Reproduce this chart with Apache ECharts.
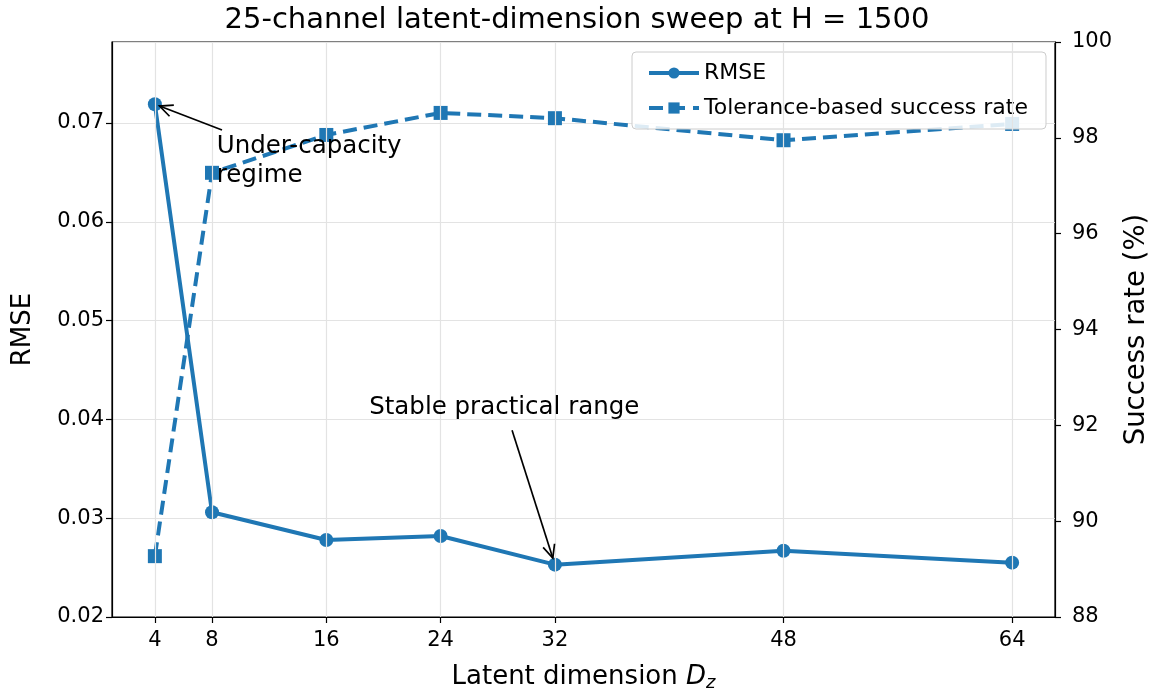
<!DOCTYPE html>
<html><head><meta charset="utf-8">
<script src="https://cdn.jsdelivr.net/npm/echarts@6/dist/echarts.min.js"></script>
<style>html,body{margin:0;padding:0;background:#fff}#c{width:1154px;height:692px}</style>
</head><body><div id="c"></div>
<script>
const dims = [4, 8, 16, 24, 32, 48, 64];
const rmse = [0.0719, 0.0306, 0.0278, 0.0282, 0.0253, 0.0267, 0.0255];
const successRate = [89.27, 97.27, 98.06, 98.52, 98.41, 97.95, 98.29];
const xTicks = [4, 8, 16, 24, 32, 48, 64];
const titleText = '25-channel latent-dimension sweep at H = 1500';
const annUnder = {text: 'Under-capacity\nregime', point: [4, 0.0719], textAt: [8.33, 0.06904], tail: [8.7, 0.0693]};
const annStable = {text: 'Stable practical range', point: [32, 0.0253], textAt: [19.0, 0.04262], tail: [29.0, 0.0389]};

const C = '#1f77b4';
const F = 'DejaVu Sans';
const chart = echarts.init(document.getElementById('c'), null, {renderer: 'canvas'});
const opt = {
  animation: false,
  backgroundColor: '#fff',
  title: {text: titleText, left: 'center', top: 1, textStyle: {fontFamily: F, fontSize: 29, fontWeight: 'normal', color: '#000'}},
  grid: {left: 112, right: 99, top: 42, bottom: 75, containLabel: false, outerBoundsMode: 'none', show: true, borderColor: '#000', borderWidth: 1.2, backgroundColor: 'transparent'},
  legend: {
    orient: 'vertical', left: 632, top: 52, itemWidth: 50, itemHeight: 14, itemGap: 13,
    padding: [10, 18, 10, 15], backgroundColor: 'rgba(255,255,255,0.85)', borderColor: '#ccc', borderWidth: 1, borderRadius: 4,
    textStyle: {fontFamily: F, fontSize: 22, color: '#000'},
    data: ['RMSE', 'Tolerance-based success rate']
  },
  xAxis: {
    type: 'value', min: 1, max: 67,
    name: '{a|Latent dimension }{i|D}{s|z}', nameLocation: 'middle', nameGap: 45,
    nameTextStyle: {rich: {
      a: {fontFamily: F, fontSize: 26, color: '#000'},
      i: {fontFamily: F, fontSize: 26, fontStyle: 'italic', color: '#000'},
      s: {fontFamily: F, fontSize: 18, fontStyle: 'italic', color: '#000', padding: [12, 0, 0, 0]}
    }},
    axisLine: {show: true, lineStyle: {color: '#000', width: 1.2}},
    axisTick: {show: true, length: 6, customValues: xTicks, lineStyle: {color: '#000', width: 1.2}},
    axisLabel: {customValues: xTicks, fontFamily: F, fontSize: 21, color: '#000', margin: 13},
    splitLine: {show: false}
  },
  yAxis: [{
    type: 'value', min: 0.02, max: 0.0782, interval: 0.01, position: 'left',
    name: 'RMSE', nameLocation: 'middle', nameGap: 76, nameRotate: 90,
    nameTextStyle: {fontFamily: F, fontSize: 26, color: '#000'},
    axisLine: {show: true, lineStyle: {color: '#000', width: 1.2}},
    axisTick: {show: true, length: 6, lineStyle: {color: '#000', width: 1.2}},
    axisLabel: {showMaxLabel: false, fontFamily: F, fontSize: 21, color: '#000', margin: 8, formatter: v => v.toFixed(2)},
    splitLine: {show: true, lineStyle: {color: '#e3e3e3', width: 1.2}}
  }, {
    type: 'value', min: 88, max: 100, interval: 2, position: 'right',
    name: 'Success rate (%)', nameLocation: 'middle', nameGap: 66, nameRotate: 90,
    nameTextStyle: {fontFamily: F, fontSize: 27.5, color: '#000'},
    axisLine: {show: true, lineStyle: {color: '#000', width: 1.2}},
    axisTick: {show: true, length: 6, lineStyle: {color: '#000', width: 1.2}},
    axisLabel: {fontFamily: F, fontSize: 21, color: '#000', margin: 17},
    splitLine: {show: false}
  }],
  series: [{
    name: 'grid-x', type: 'line', data: [], z: 0, silent: true,
    markLine: {silent: true, symbol: ['none', 'none'], label: {show: false},
      lineStyle: {color: '#e3e3e3', width: 1.2, type: 'solid'},
      data: xTicks.map(v => ({xAxis: v}))}
  }, {
    name: 'RMSE', type: 'line', yAxisIndex: 0, z: 3,
    data: dims.map((d, i) => [d, rmse[i]]),
    symbol: 'circle', symbolSize: 14,
    lineStyle: {color: C, width: 4}, itemStyle: {color: C}
  }, {
    name: 'Tolerance-based success rate', type: 'line', yAxisIndex: 1, z: 3,
    data: dims.map((d, i) => [d, successRate[i]]),
    symbol: 'rect', symbolSize: 14,
    lineStyle: {color: C, width: 4, type: [14, 7]}, itemStyle: {color: C}
  }]
};
opt.legend.data = [
  {name: 'RMSE', lineStyle: {width: 4}},
  {name: 'Tolerance-based success rate', lineStyle: {width: 4, type: [14, 8]}}
];
chart.setOption(opt);

function px(p) { return chart.convertToPixel({xAxisIndex: 0, yAxisIndex: 0}, p); }
function arrow(tail, head, shrink) {
  const t = px(tail), h0 = px(head);
  const dx = h0[0] - t[0], dy = h0[1] - t[1], L = Math.hypot(dx, dy);
  const ux = dx / L, uy = dy / L;
  const h = [h0[0] - ux * shrink, h0[1] - uy * shrink];
  const hl = 13, hw = 6;
  const b = [h[0] - ux * hl, h[1] - uy * hl];
  const w1 = [b[0] - uy * hw, b[1] + ux * hw], w2 = [b[0] + uy * hw, b[1] - ux * hw];
  return [
    {type: 'line', shape: {x1: t[0], y1: t[1], x2: h[0], y2: h[1]}, style: {stroke: '#000', lineWidth: 1.7}, z: 10},
    {type: 'polyline', shape: {points: [w1, h, w2]}, style: {stroke: '#000', lineWidth: 1.7, fill: null}, z: 10}
  ];
}
function label(a, lh) {
  const p = px(a.textAt);
  return {type: 'text', x: p[0], y: p[1], z: 10,
    style: {text: a.text, fontFamily: F, fontSize: 24.5, fill: '#000', lineHeight: lh, textVerticalAlign: 'top'}};
}
chart.setOption({graphic: [
  ...arrow(annUnder.tail, annUnder.point, 5),
  label(annUnder, 29),
  ...arrow(annStable.tail, annStable.point, 7),
  label(annStable, 29)
]});
</script></body></html>
